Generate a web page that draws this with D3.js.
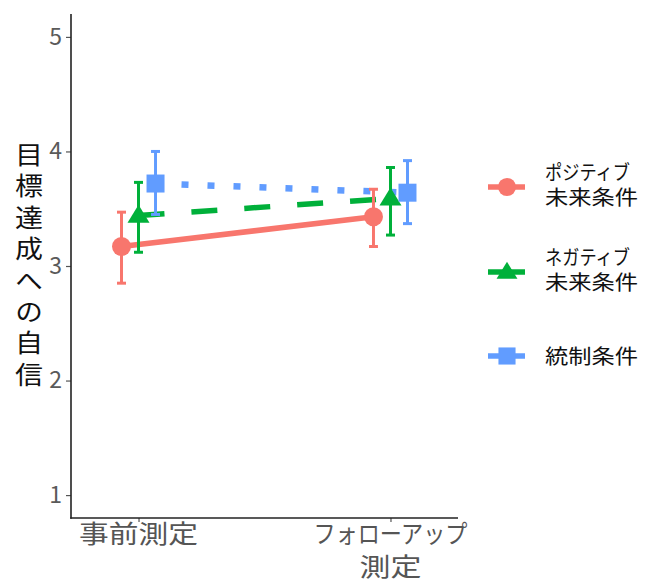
<!DOCTYPE html>
<html><head><meta charset="utf-8">
<script src="https://cdn.jsdelivr.net/npm/d3@7"></script>
<style>body{margin:0;background:#fff}</style>
</head><body><svg id="c" width="651" height="582"></svg>
<script>
const times = ["事前測定", "フォローアップ\n測定"];
const conditions = ["ポジティブ\n未来条件", "ネガティブ\n未来条件", "統制条件"];
const meanPositive = [3.17, 3.43];
const meanNegative = [3.44, 3.59];
const meanControl  = [3.72, 3.64];
const lowPositive  = [2.85, 3.17];
const highPositive = [3.47, 3.67];
const lowNegative  = [3.12, 3.27];
const highNegative = [3.73, 3.86];
const lowControl   = [3.45, 3.37];
const highControl  = [4.00, 3.92];
const yTicks = [1, 2, 3, 4, 5];
const yTitle = "目標達成への自信";

const colors = ["#F8766D", "#00B03A", "#619CFF"];
const shapes = ["circle", "triangle", "square"];
const dashes = [null, "26 27", "7 19"];
const series = [
  {name: conditions[0], mean: meanPositive, lo: lowPositive, hi: highPositive},
  {name: conditions[1], mean: meanNegative, lo: lowNegative, hi: highNegative},
  {name: conditions[2], mean: meanControl,  lo: lowControl,  hi: highControl}
];

const FONT = "'Noto Sans CJK JP', 'Noto Sans', sans-serif";
const svg = d3.select("#c");
const L = 71, R = 458, T = 14, B = 518;
const x = d3.scalePoint().domain(times).range([L, R]).padding(0.268);
const y = d3.scaleLinear().domain([0.8, 5.2]).range([B, T]);
const dodge = x.step() * 0.0675;
const dx = i => (i - 1) * dodge;

// axes
const yAxis = svg.append("g").attr("transform", `translate(${L},0)`)
  .call(d3.axisLeft(y).tickValues(yTicks).tickSize(5).tickPadding(4).tickFormat(d3.format("d")));
yAxis.select(".domain").remove();
yAxis.selectAll(".tick line").attr("stroke", "#555").attr("stroke-width", 1.2);
yAxis.selectAll(".tick text").attr("fill", "#5a5a5a").attr("font-size", 23).attr("font-family", FONT);

const xAxis = svg.append("g").attr("transform", `translate(0,${B})`)
  .call(d3.axisBottom(x).tickSize(4).tickFormat(""));
xAxis.select(".domain").remove();
xAxis.selectAll(".tick line").attr("stroke", "#555").attr("stroke-width", 1.2);

svg.append("line").attr("x1", L).attr("x2", L).attr("y1", T).attr("y2", B + 0.7)
  .attr("stroke", "#222").attr("stroke-width", 1.6);
svg.append("line").attr("x1", L - 0.8).attr("x2", R).attr("y1", B).attr("y2", B)
  .attr("stroke", "#222").attr("stroke-width", 1.6);

// x labels
const xLabelLen = {"事前測定": 119, "フォローアップ": 154, "測定": 62};
times.forEach(t => {
  const lines = t.split("\n");
  const txt = svg.append("text").attr("text-anchor", "middle")
    .attr("font-family", FONT).attr("font-size", 25).attr("fill", "#555");
  lines.forEach((ln, j) => {
    txt.append("tspan").attr("x", x(t)).attr("y", 543 + j * 33)
      .attr("textLength", xLabelLen[ln]).attr("lengthAdjust", "spacingAndGlyphs")
      .text(ln);
  });
});

// y title (vertical)
svg.append("text")
  .attr("transform", `translate(29,142) scale(1.12,1)`)
  .attr("x", 0).attr("y", 0)
  .style("writing-mode", "vertical-rl").style("text-orientation", "upright")
  .attr("letter-spacing", 6.4)
  .attr("font-family", FONT).attr("font-size", 25).attr("fill", "#111")
  .text(yTitle);

function marker(g, shape, cx, cy, color, s) {
  if (shape === "circle") {
    g.append("circle").attr("cx", cx).attr("cy", cy).attr("r", 9.5 * s).attr("fill", color);
  } else if (shape === "triangle") {
    const w = 11 * s, h = 18 * s;
    g.append("path").attr("d", `M${cx},${cy - h * 0.6}L${cx + w},${cy + h * 0.4}L${cx - w},${cy + h * 0.4}Z`).attr("fill", color);
  } else {
    const a = 9 * s;
    g.append("rect").attr("x", cx - a).attr("y", cy - a).attr("width", 2 * a).attr("height", 2 * a).attr("fill", color);
  }
}

const plot = svg.append("g");
series.forEach((s, i) => {
  const pts = times.map((t, k) => [x(t) + dx(i), y(s.mean[k])]);
  plot.append("path").attr("d", d3.line()(pts)).attr("fill", "none")
    .attr("stroke", colors[i]).attr("stroke-width", i === 2 ? 6.5 : 5.5)
    .attr("stroke-dasharray", dashes[i]);
});
series.forEach((s, i) => {
  times.forEach((t, k) => {
    const cx = x(t) + dx(i);
    const g = plot.append("g").attr("stroke", colors[i]).attr("stroke-width", 3);
    g.append("line").attr("x1", cx).attr("x2", cx).attr("y1", y(s.lo[k])).attr("y2", y(s.hi[k]));
    g.append("line").attr("x1", cx - 4.5).attr("x2", cx + 4.5).attr("y1", y(s.lo[k])).attr("y2", y(s.lo[k]));
    g.append("line").attr("x1", cx - 4.5).attr("x2", cx + 4.5).attr("y1", y(s.hi[k])).attr("y2", y(s.hi[k]));
  });
});
series.forEach((s, i) => {
  times.forEach((t, k) => marker(plot, shapes[i], x(t) + dx(i), y(s.mean[k]), colors[i], 1));
});

// legend
const legY = [187, 272, 356];
const leg = svg.append("g");
const lens = {"ポジティブ": 85, "ネガティブ": 85, "未来条件": 93, "統制条件": 93};
series.forEach((s, i) => {
  const cy = legY[i];
  leg.append("line").attr("x1", 488).attr("x2", 525).attr("y1", cy).attr("y2", cy)
    .attr("stroke", colors[i]).attr("stroke-width", 5.5);
  marker(leg, shapes[i], 507, cy, colors[i], 0.95);
  const lines = s.name.split("\n");
  const txt = leg.append("text").attr("font-family", FONT).attr("font-size", 20).attr("fill", "#111");
  lines.forEach((ln, j) => {
    const ty = lines.length === 1 ? cy + 8 : cy - 7 + j * 25;
    txt.append("tspan").attr("x", 545).attr("y", ty)
      .attr("textLength", lens[ln]).attr("lengthAdjust", "spacingAndGlyphs").text(ln);
  });
});
</script></body></html>
